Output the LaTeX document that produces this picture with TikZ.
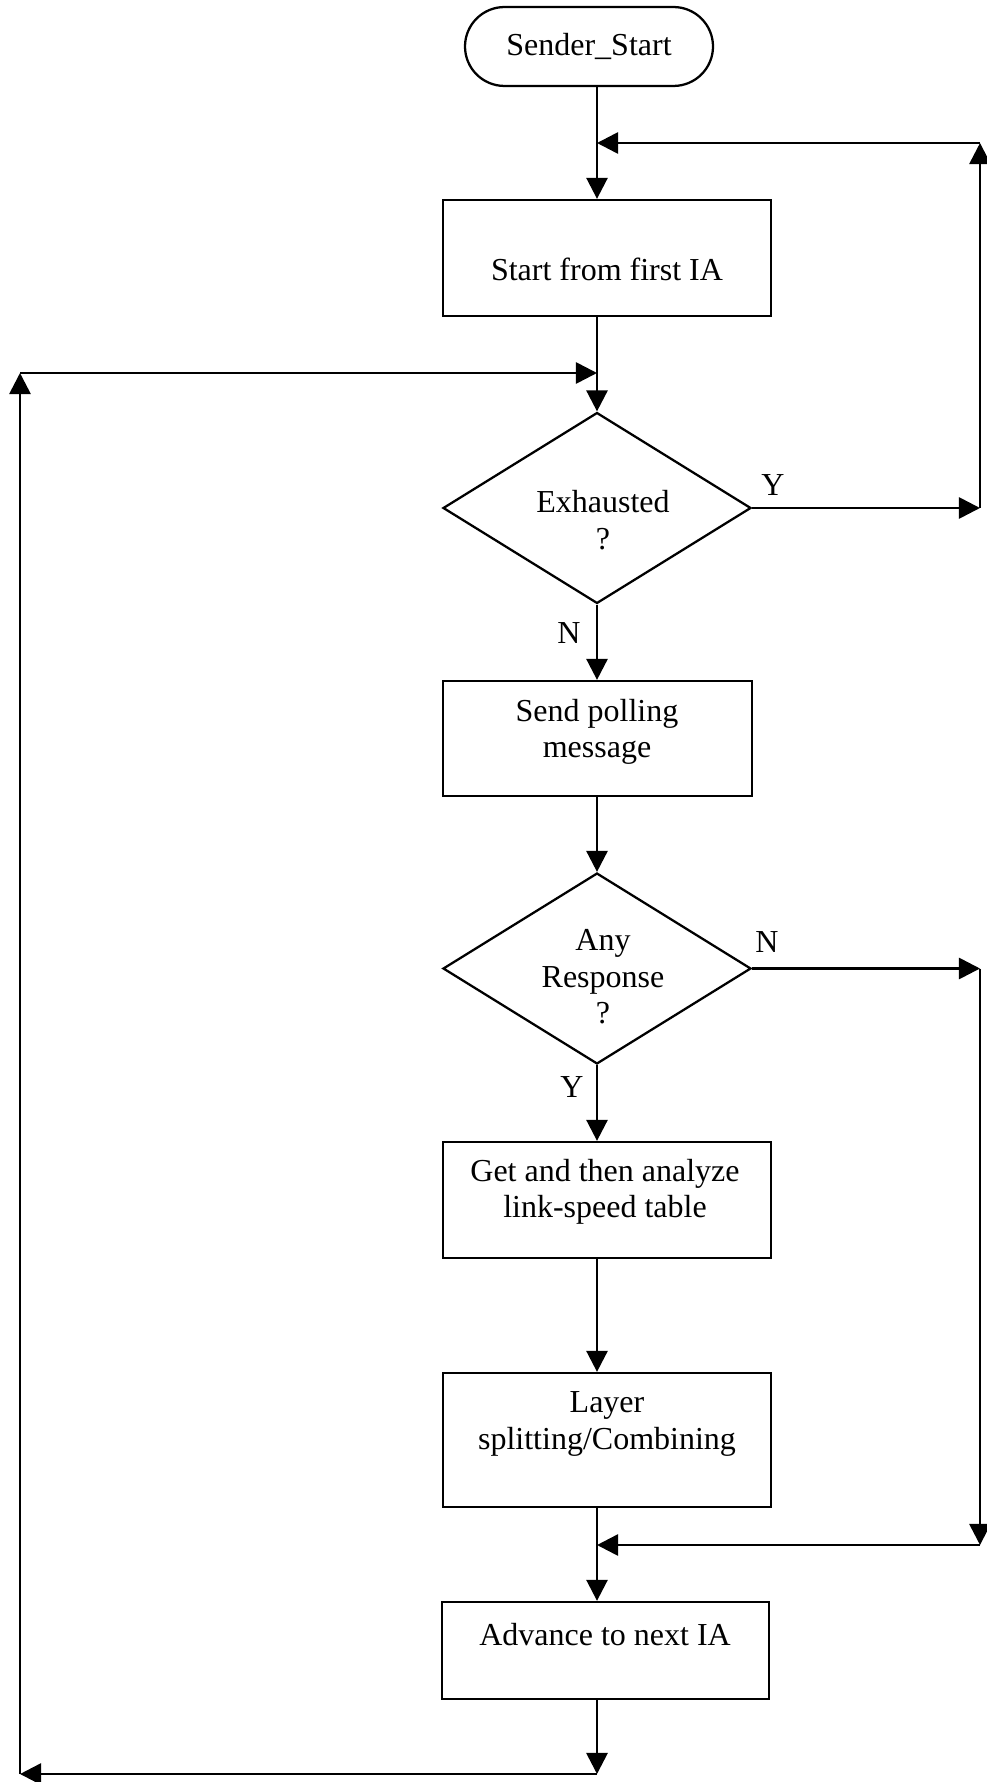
\documentclass[tikz,border=0pt]{standalone}
\usepackage{fontspec}
\setmainfont{Liberation Serif}
\usetikzlibrary{arrows.meta,shapes.geometric}
\begin{document}
\begin{tikzpicture}[x=0.375pt,y=-0.375pt,
  shapeline/.style={draw,line width=0.85pt,inner sep=0pt},
  box/.style={shapeline,rectangle},
  decision/.style={shapeline,diamond,minimum width=115.5pt,minimum height=71.6pt},
  terminal/.style={shapeline,rectangle,rounded corners=14.8pt,minimum width=93pt,minimum height=29.6pt,
    font=\fontsize{12}{13.7}\selectfont},
  txt/.style={align=center,font=\fontsize{12}{13.7}\selectfont,inner sep=0pt},
  flow/.style={-{Triangle[length=7.9pt,width=7.9pt]},line width=1pt}
]
\useasboundingbox (0,0) rectangle (987,1782);

% main column and the turning points of the loops
\coordinate (spine) at (597,0);
\coordinate (jTop) at (597,143);
\coordinate (jLeft) at (597,373);
\coordinate (jMerge) at (597,1545);
\coordinate (bot) at (597,1774);
\coordinate (rUp) at (980,143);
\coordinate (rY) at (980,508);
\coordinate (rN) at (980,968.5);
\coordinate (rDown) at (980,1545);
\coordinate (lBot) at (20,1774);
\coordinate (lTop) at (20,373);

% shapes
\node[terminal] (start) at (589,46.5) {Sender\_Start};

\node[box,minimum width=123pt,minimum height=43.5pt] (b1) at (607,258) {};
\node[txt] (b1t) at (607,269) {Start from first IA};

\node[decision] (d1) at (597,508) {};
\node[txt] (d1t) at (603,520) {Exhausted\\?};

\node[box,minimum width=115.9pt,minimum height=43.1pt] (b2) at (597.5,738.5) {};
\node[txt] (b2t) at (597,732) {Send polling\\message};

\node[decision] (d2) at (597,968.5) {};
\node[txt] (d2t) at (603,977) {Any\\Response\\?};

\node[box,minimum width=123pt,minimum height=43.5pt] (b3) at (607,1200) {};
\node[txt] (b3t) at (605,1192) {Get and then analyze\\link-speed table};

\node[box,minimum width=123pt,minimum height=50.25pt] (b4) at (607,1440) {};
\node[txt] (b4t) at (607,1424) {Layer\\splitting/Combining};

\node[box,minimum width=122.6pt,minimum height=36.4pt] (b5) at (605.5,1650.5) {};
\node[txt] (b5t) at (605,1635) {Advance to next IA};

% branch labels
\node[txt] (lY1) at (773,485) {Y};
\node[txt] (lN1) at (569,633) {N};
\node[txt] (lN2) at (767,942) {N};
\node[txt] (lY2) at (572,1087) {Y};

% connectors
\draw[flow] (start.south -| spine) -- (b1.north -| spine);
\draw[flow] (b1.south -| spine) -- (d1.north);
\draw[flow] (d1.south) -- (b2.north -| spine);
\draw[flow] (b2.south -| spine) -- (d2.north);
\draw[flow] (d2.south) -- (b3.north -| spine);
\draw[flow] (b3.south -| spine) -- (b4.north -| spine);
\draw[flow] (b4.south -| spine) -- (b5.north -| spine);
\draw[flow] (b5.south -| spine) -- (bot);

% Y branch of the first decision, back to the top
\draw[flow] (d1.east) -- (rY);
\draw[flow] (rY) -- (rUp);
\draw[flow] (rUp) -- (jTop);

% N branch of the second decision, down to the merge point
\draw[flow] (d2.east) -- (rN);
\draw[flow] (rN) -- (rDown);
\draw[flow] (rDown) -- (jMerge);

% loop from the bottom back to the first decision
\draw[flow] (bot) -- (lBot);
\draw[flow] (lBot) -- (lTop);
\draw[flow] (lTop) -- (jLeft);
\end{tikzpicture}
\end{document}
